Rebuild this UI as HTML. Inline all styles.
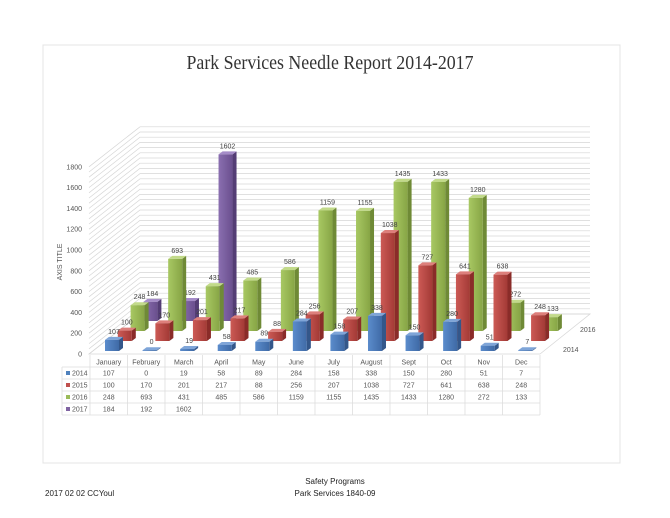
<!DOCTYPE html>
<html><head><meta charset="utf-8">
<style>
html,body{margin:0;padding:0;background:#fff;}
svg{display:block;font-family:"Liberation Sans",sans-serif;}
</style></head>
<body>
<svg id="chart" width="670" height="518" viewBox="0 0 670 518" xmlns="http://www.w3.org/2000/svg">
<defs>
<linearGradient id="g0" x1="0" x2="1"><stop offset="0" stop-color="#5b8ccc"/><stop offset="1" stop-color="#3f6aa6"/></linearGradient>
<linearGradient id="g1" x1="0" x2="1"><stop offset="0" stop-color="#cc5a55"/><stop offset="1" stop-color="#a33a36"/></linearGradient>
<linearGradient id="g2" x1="0" x2="1"><stop offset="0" stop-color="#a8c863"/><stop offset="1" stop-color="#87a545"/></linearGradient>
<linearGradient id="g3" x1="0" x2="1"><stop offset="0" stop-color="#8a6fb0"/><stop offset="1" stop-color="#6a4f8e"/></linearGradient>
</defs>
<rect x="43" y="45" width="577" height="418" fill="#fff" stroke="#e4e4e4"/>
<text x="330" y="69" text-anchor="middle" font-family="Liberation Serif, serif" font-size="20" fill="#333" textLength="287" lengthAdjust="spacingAndGlyphs">Park Services Needle Report 2014-2017</text>
<g id="walls"></g>
<g id="bars"></g>
<g id="table"></g>
<text x="62" y="262" transform="rotate(-90 62 262)" text-anchor="middle" font-size="7" fill="#555">AXIS TITLE</text>
<text x="563" y="352" font-size="7" fill="#555">2014</text>
<text x="580" y="332" font-size="7" fill="#555">2016</text>
<text x="335" y="484" text-anchor="middle" font-size="8" fill="#222">Safety Programs</text>
<text x="335" y="496" text-anchor="middle" font-size="8" fill="#222">Park Services 1840-09</text>
<text x="45" y="496" font-size="8" fill="#222">2017 02 02 CCYoul</text>
</svg>
<script>
const months = ["January","February","March","April","May","June","July","August","Sept","Oct","Nov","Dec"];
const seriesNames = ["2014","2015","2016","2017"];
const s2014 = [107,0,19,58,89,284,158,338,150,280,51,7];
const s2015 = [100,170,201,217,88,256,207,1038,727,641,638,248];
const s2016 = [248,693,431,485,586,1159,1155,1435,1433,1280,272,133];
const s2017 = [184,192,1602,null,null,null,null,null,null,null,null,null];
const yTicks = [0,200,400,600,800,1000,1200,1400,1600,1800];

const NS = "http://www.w3.org/2000/svg";
const allSeries = [s2014,s2015,s2016,s2017];
const fills = ["url(#g0)","url(#g1)","url(#g2)","url(#g3)"];
const sides = ["#34578a","#8a2c29","#6f8a36","#543d75"];
const tops = ["#7fa5d8","#dd7f7b","#c2da8a","#a58cc8"];
const keyCol = ["#4f81bd","#c0504d","#9bbb59","#8064a2"];
const K = 0.104, ZERO = 354, DX = 12.8, DY = 10, STEP = 37.57, X0 = 105, BW = 14;
function yv(v){ return v*K; }
function xPos(i,s){ return X0 + STEP*i + DX*s; }
function base(s){ return 351 - DY*s; }
function mk(tag, attrs, parent){ const e=document.createElementNS(NS,tag); for(const k in attrs) e.setAttribute(k,attrs[k]); parent.appendChild(e); return e; }

const walls = document.getElementById('walls');
mk('polygon',{points:"89,354 140,314 590,314 540,354",fill:"#fff",stroke:"#d9d9d9","stroke-width":"0.8"},walls);
for(let v=0; v<=1800; v+=50){
  const yb = 314 - yv(v), yf = ZERO - yv(v);
  const l = mk('polyline',{points:`89,${yf} 140,${yb} 590,${yb}`,fill:"none",stroke:"#d6d6d6","stroke-width":"0.7"},walls);
  
  
}
yTicks.forEach(v=>{
  const t = mk('text',{x:82,y:ZERO - yv(v)+2.5,"text-anchor":"end","font-size":"7",fill:"#555"},walls);
  t.textContent = v;
  
  
});

const bars = document.getElementById('bars');
for(let s=3; s>=0; s--){
  for(let i=0;i<12;i++){
    const v = allSeries[s][i];
    if(v===null) continue;
    const x = xPos(i,s), b = base(s), h = Math.max(yv(v),0.8), t = b-h;
    const g = mk('g',{},bars);
    
    
    mk('polygon',{points:`${x+BW},${b} ${x+BW+4},${b-3} ${x+BW+4},${t-3} ${x+BW},${t}`,fill:sides[s]},g);
    mk('polygon',{points:`${x},${t} ${x+4},${t-3} ${x+BW+4},${t-3} ${x+BW},${t}`,fill:tops[s]},g);
    mk('rect',{x:x,y:t,width:BW,height:h,fill:fills[s]},g);
    const lb = mk('text',{x:x+BW/2+2,y:t-6,"text-anchor":"middle","font-size":"7",fill:"#444"},g);
    lb.textContent = v;
    
    
  }
}

const tb = document.getElementById('table');
const TL=62, TC=90, CW=37.5, TR=540, RH=12, HT=355, R0=367;
for(let i=0;i<=12;i++){
  mk('line',{x1:TC+CW*i,y1:HT,x2:TC+CW*i,y2:R0+4*RH,stroke:"#ddd","stroke-width":"0.8"},tb);
}
mk('line',{x1:TL,y1:R0,x2:TL,y2:R0+4*RH,stroke:"#ddd","stroke-width":"0.8"},tb);
for(let r=0;r<=4;r++){
  mk('line',{x1:TL,y1:R0+RH*r,x2:TR,y2:R0+RH*r,stroke:"#ddd","stroke-width":"0.8"},tb);
}
months.forEach((m,i)=>{
  const t = mk('text',{x:TC+CW*i+CW/2,y:HT+9.5,"text-anchor":"middle","font-size":"7",fill:"#555"},tb);
  t.textContent = m;
  
  
});
seriesNames.forEach((n,r)=>{
  const y = R0+RH*r;
  const k = mk('rect',{x:TL+4,y:y+4,width:4,height:4,fill:keyCol[r]},tb);
  
  
  const t = mk('text',{x:TL+10,y:y+8.5,"font-size":"7",fill:"#555"},tb);
  t.textContent = n;
  
  
  allSeries[r].forEach((v,i)=>{
    if(v===null) return;
    const c = mk('text',{x:TC+CW*i+CW/2,y:y+8.5,"text-anchor":"middle","font-size":"7",fill:"#555"},tb);
    c.textContent = v;
    
    
  });
});
</script>
</body></html>
